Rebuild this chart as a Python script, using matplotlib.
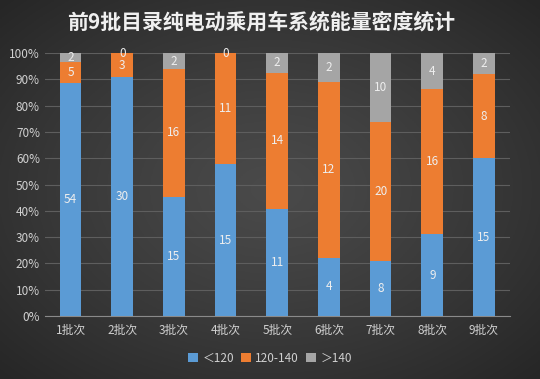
import numpy as np
import matplotlib.pyplot as plt
from matplotlib.ticker import PercentFormatter

plt.rcParams['font.family'] = ['Noto Sans CJK SC', 'DejaVu Sans']

batches = ["1批次", "2批次", "3批次", "4批次", "5批次", "6批次", "7批次", "8批次", "9批次"]
low = np.array([54, 30, 15, 15, 11, 4, 8, 9, 15])
mid = np.array([5, 3, 16, 11, 14, 12, 20, 16, 8])
high = np.array([2, 0, 2, 0, 2, 2, 10, 4, 2])
series_names = ["＜120", "120-140", "＞140"]
colors = ["#5b9bd5", "#ed7d31", "#a5a5a5"]

total = low + mid + high
shares = [low / total * 100, mid / total * 100, high / total * 100]
counts = [low, mid, high]

fig = plt.figure(figsize=(5.4, 3.79), dpi=100)

# dark radial background: ~#4a4a4a centre fading to ~#262626 corners
bg = fig.add_axes([0, 0, 1, 1], zorder=-10)
yy, xx = np.mgrid[-1:1:200j, -1:1:300j]
r = np.clip(np.sqrt(xx**2 + yy**2) / np.sqrt(2), 0, 1)
g = (0x4a - (0x4a - 0x26) * r**1.2) / 255.0
bg.imshow(np.dstack([g, g, g]), aspect="auto", extent=[0, 1, 0, 1])
bg.axis("off")

ax = fig.add_axes([0.083, 0.166, 0.861, 0.694])
ax.patch.set_alpha(0)

x = np.arange(len(batches))
bottom = np.zeros(len(batches))
for share, cnt, name, c in zip(shares, counts, series_names, colors):
    bars = ax.bar(x, share, 0.42, bottom=bottom, color=c, label=name, zorder=3)
    ax.bar_label(bars, labels=[str(v) for v in cnt], label_type="center",
                 color="#eeeeee", fontsize=8.5)
    bottom += share

ax.set_xlim(-0.5, 8.5)
ax.set_ylim(0, 100)
ax.set_yticks(np.arange(0, 101, 10))
ax.yaxis.set_major_formatter(PercentFormatter(decimals=0))
ax.set_xticks(x)
ax.set_xticklabels(batches)
ax.tick_params(colors="#d0d0d0", labelsize=8.5, length=0)
ax.tick_params(axis="x", pad=6)
ax.grid(axis="y", color="#5e5e5e", lw=0.8, zorder=0)
for s in ["top", "right", "left"]:
    ax.spines[s].set_visible(False)
ax.spines["bottom"].set_color("#8a8a8a")

fig.text(0.484, 0.942, "前9批目录纯电动乘用车系统能量密度统计", ha="center", va="center",
         color="#f0f0f0", fontsize=15, fontweight="bold")

fig.legend(loc="center", bbox_to_anchor=(0.5, 0.055), ncol=3, frameon=False,
           fontsize=8.5, labelcolor="#d0d0d0", handlelength=0.8, handleheight=0.8,
           handletextpad=0.4, columnspacing=0.6)

fig.savefig("out.png", dpi=100, facecolor="#3a3a3a")
